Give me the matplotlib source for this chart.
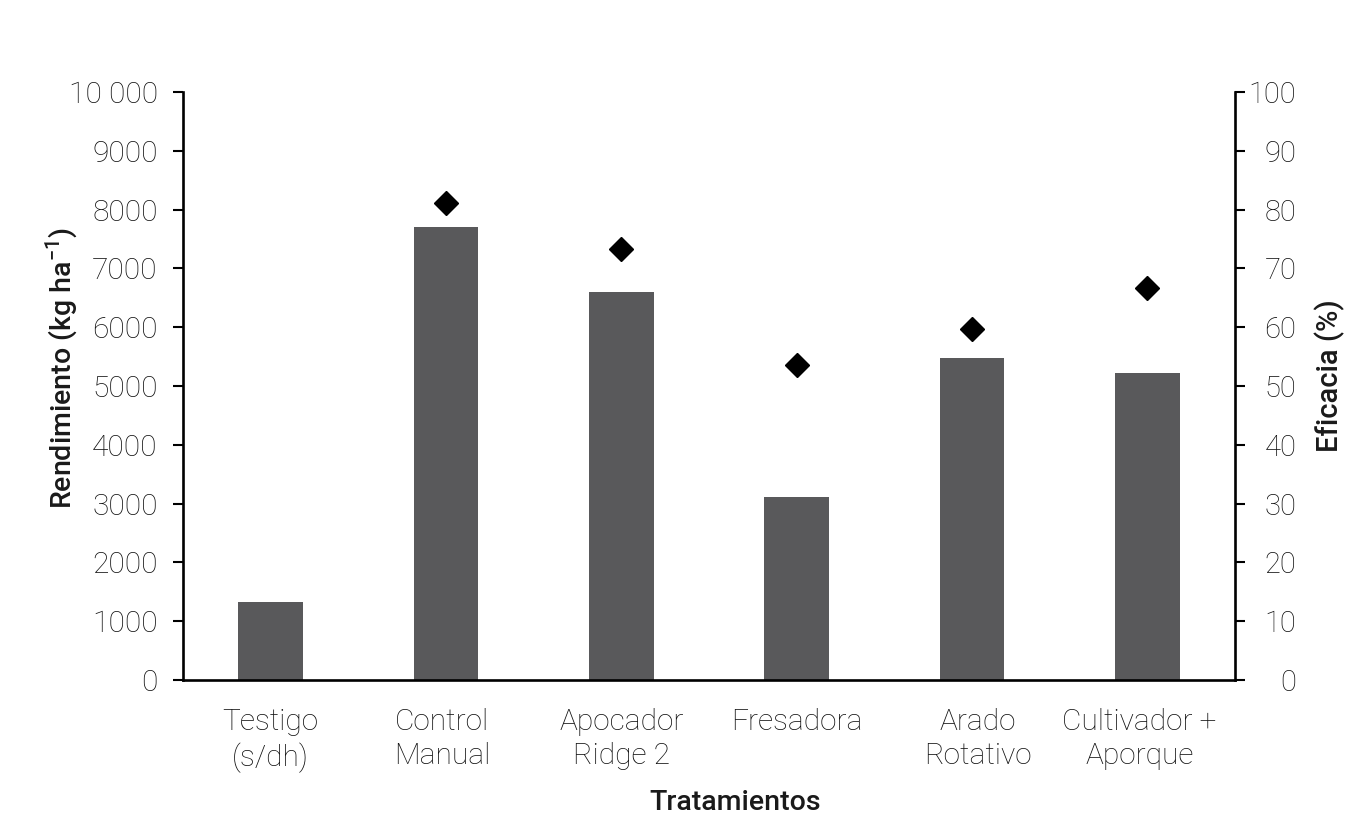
import matplotlib
matplotlib.use("Agg")
import matplotlib.pyplot as plt
import matplotlib.transforms as mtransforms
from matplotlib.ticker import FixedLocator, FixedFormatter

categories = ["Testigo\n(s/dh)", "Control\nManual", "Apocador\nRidge 2", "Fresadora", "Arado\nRotativo", "Cultivador +\nAporque"]
rendimiento = [1330, 7700, 6600, 3110, 5480, 5220]
eficacia_idx = [1, 2, 3, 4, 5]
eficacia = [81.1, 73.3, 53.6, 59.7, 66.7]
left_ticks = [0, 1000, 2000, 3000, 4000, 5000, 6000, 7000, 8000, 9000, 10000]
left_labels = ["0", "1000", "2000", "3000", "4000", "5000", "6000", "7000", "8000", "9000", "10 000"]
right_ticks = [0, 10, 20, 30, 40, 50, 60, 70, 80, 90, 100]
label_shift_px = [0, -4, 0, 0, 6, -8]

plt.rcParams['font.family'] = ['Roboto', 'DejaVu Sans']

fig = plt.figure(figsize=(13.55, 8.39), dpi=100)
ax = fig.add_axes([183/1355, 1-680/839, (1235-183)/1355, (680-92)/839])
ax2 = ax.twinx()

x = list(range(len(categories)))
ax.bar(x, rendimiento, width=0.37, color="#59595b", zorder=2)
ax2.plot(eficacia_idx, eficacia, linestyle='none', marker='D', markersize=12.5, color='black', zorder=3)

ax.set_xlim(-0.5, len(categories) - 0.5)
ax.set_ylim(0, 10000)
ax2.set_ylim(0, 100)

lw = 1.9
for a in (ax, ax2):
    a.spines['top'].set_visible(False)
    for s in ('left', 'right', 'bottom'):
        a.spines[s].set_linewidth(lw)
ax.spines['right'].set_visible(False)
ax2.spines['left'].set_visible(False)
ax2.spines['bottom'].set_visible(False)

tc = '#111111'
ax.set_xticks(x)
ax.set_xticklabels(categories, fontsize=21.5, fontweight='light', linespacing=1.3, color=tc)
ax.tick_params(axis='x', length=0, pad=20)
for t, dx in zip(ax.get_xticklabels(), label_shift_px):
    t.set_transform(t.get_transform() + mtransforms.ScaledTranslation(dx / 100, 0, fig.dpi_scale_trans))

ax.yaxis.set_major_locator(FixedLocator(left_ticks))
ax.yaxis.set_major_formatter(FixedFormatter(left_labels))
ax.tick_params(axis='y', direction='out', length=7.2, width=1.5, pad=11, labelsize=21.5, labelcolor=tc)
for t in ax.get_yticklabels():
    t.set_fontweight('light')

ax2.set_yticks(right_ticks)
ax2.set_yticklabels([str(v) for v in right_ticks])
ax2.tick_params(axis='y', direction='out', length=7.2, width=1.5, pad=37, labelsize=21, labelcolor=tc)
for t in ax2.get_yticklabels():
    t.set_fontweight('light')
    t.set_horizontalalignment('right')

lc = '#1a1a1a'
fig.text(62/1355, 1-368/839, r'Rendimiento (kg ha$^{\mathregular{-1}}$)', rotation=90,
         ha='center', va='center', fontsize=20.5, fontweight='medium', color=lc)
fig.text(1330/1355, 1-376/839, 'Eficacia (%)', rotation=90,
         ha='center', va='center', fontsize=21, fontweight='medium', color=lc)
fig.text(735/1355, 1-802/839, 'Tratamientos', ha='center', va='center',
         fontsize=20.5, fontweight='medium', color=lc)

fig.savefig('out.png', dpi=100)
